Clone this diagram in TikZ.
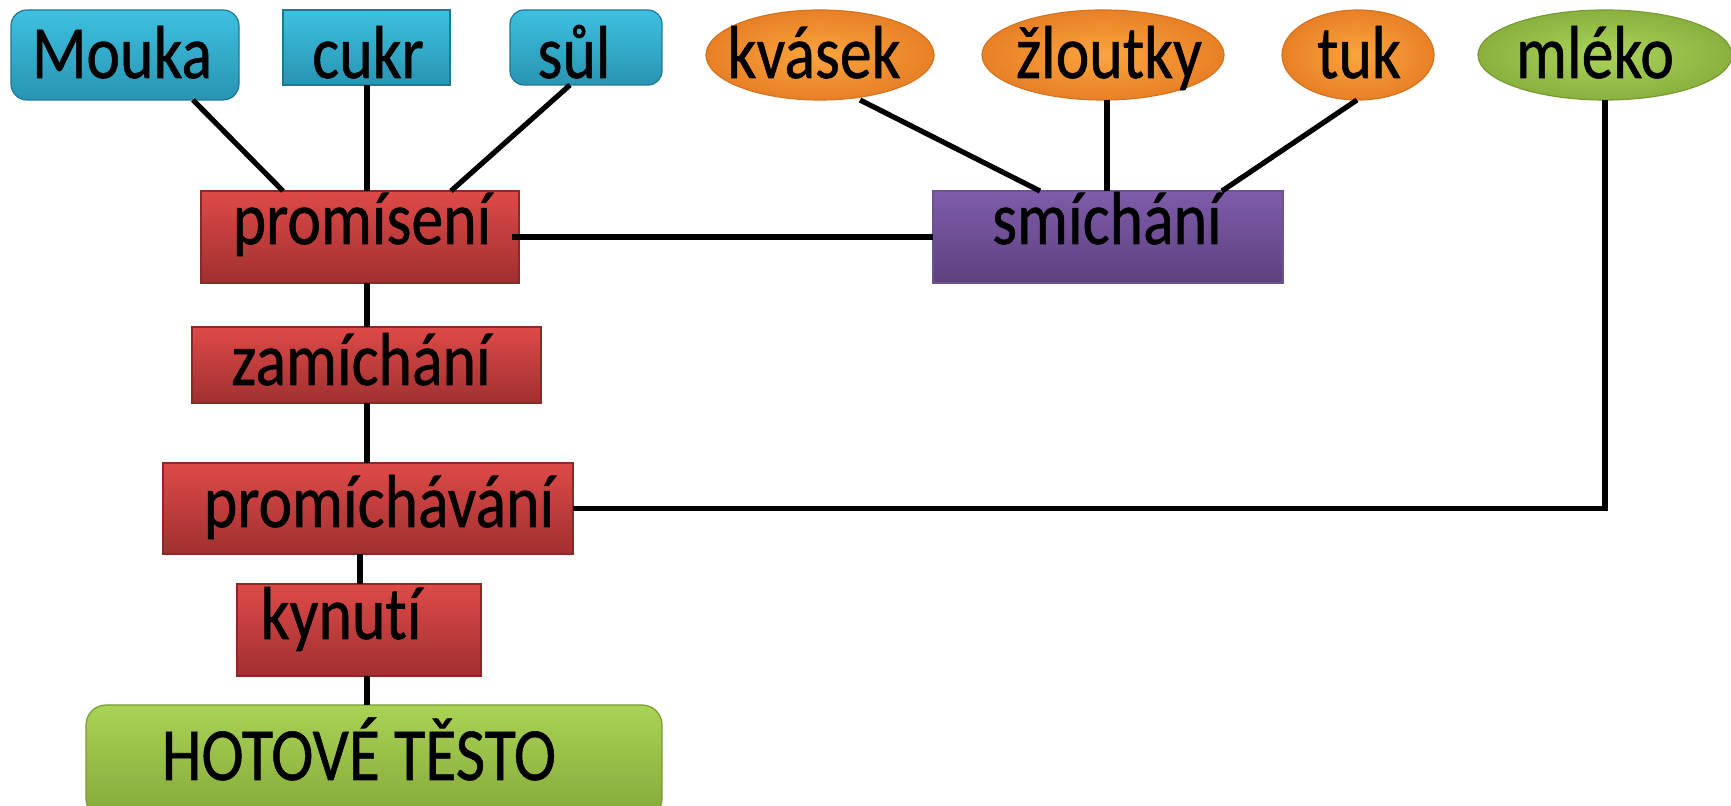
\documentclass[tikz,border=0pt]{standalone}
\usepackage{fontspec}
\setmainfont{Carlito}[Ligatures={NoCommon,NoContextual},FakeBold=0.8]
\usetikzlibrary{shapes.geometric,calc}
\definecolor{blueT}{RGB}{62,192,224}
\definecolor{blueB}{RGB}{40,148,178}
\definecolor{blueD}{RGB}{30,120,150}
\definecolor{redT}{RGB}{222,74,72}
\definecolor{redB}{RGB}{160,48,48}
\definecolor{redD}{RGB}{140,40,40}
\definecolor{purT}{RGB}{126,92,170}
\definecolor{purB}{RGB}{94,64,126}
\definecolor{purD}{RGB}{110,80,150}
\definecolor{orI}{RGB}{250,165,62}
\definecolor{orO}{RGB}{232,128,38}
\definecolor{orD}{RGB}{215,115,30}
\definecolor{grI}{RGB}{172,212,90}
\definecolor{grO}{RGB}{138,176,62}
\definecolor{grT}{RGB}{170,210,84}
\definecolor{grB}{RGB}{132,168,58}
\definecolor{grD}{RGB}{120,155,50}
\newcommand{\lbltext}[1]{\scalebox{0.85}[1]{#1}}
\tikzset{
  shp/.style={inner sep=0pt, outer sep=0pt, line width=0.6pt},
  bluebox/.style={shp, rectangle, top color=blueT, bottom color=blueB, draw=blueD},
  redbox/.style={shp, rectangle, top color=redT, bottom color=redB, draw=redD},
  purbox/.style={shp, rectangle, top color=purT, bottom color=purB, draw=purD},
  greenbox/.style={shp, rectangle, top color=grT, bottom color=grB, draw=grD},
  orell/.style={shp, ellipse, inner color=orI, outer color=orO, draw=orD},
  grell/.style={shp, ellipse, inner color=grI, outer color=grO, draw=grD},
  lbl/.style={anchor=base, inner sep=0pt, font=\fontsize{37.5}{44}\selectfont, text=black},
  conn/.style={line width=2.6pt, black},
}
\begin{document}
\begin{tikzpicture}[x=0.5pt, y=-0.5pt]
\useasboundingbox (0,0) rectangle (1731,806);
\clip (0,0) rectangle (1731,806);
% top row
\node[bluebox, rounded corners=8pt, minimum width=114pt, minimum height=45pt] (mouka) at (125,55) {};
\node[bluebox, minimum width=83.5pt, minimum height=37.5pt] (cukr) at (366.5,47.5) {};
\node[bluebox, rounded corners=7pt, minimum width=76pt, minimum height=37.5pt] (sul) at (586,47.5) {};
\node[orell, minimum width=114pt, minimum height=45pt] (kvasek) at (820,55) {};
\node[orell, minimum width=121pt, minimum height=45pt] (zlout) at (1103,55) {};
\node[orell, minimum width=76pt, minimum height=45pt] (tuk) at (1358,55) {};
\node[grell, minimum width=127pt, minimum height=45pt] (mleko) at (1605,55) {};
% process boxes
\node[redbox, minimum width=159pt, minimum height=46pt] (prom) at (360,237) {};
\node[purbox, minimum width=175pt, minimum height=46pt] (smich) at (1108,237) {};
\node[redbox, minimum width=174.5pt, minimum height=38pt] (zam) at (366.5,365) {};
\node[redbox, minimum width=205pt, minimum height=45.5pt] (promv) at (368,508.5) {};
\node[redbox, minimum width=122pt, minimum height=46pt] (kyn) at (359,630) {};
\node[greenbox, rounded corners=10pt, minimum width=288pt, minimum height=57pt] (hot) at (374,762) {};
% labels
\node[lbl] (tmouka) at (122,78) {\lbltext{Mouka}};
\node[lbl] (tcukr) at (368,78) {\lbltext{cukr}};
\node[lbl] (tsul) at (574,78) {\lbltext{sůl}};
\node[lbl] (tkvasek) at (814,78) {\lbltext{kvásek}};
\node[lbl] (tzlout) at (1109,78) {\lbltext{žloutky}};
\node[lbl] (ttuk) at (1359,78) {\lbltext{tuk}};
\node[lbl] (tmleko) at (1595,78) {\lbltext{mléko}};
\node[lbl] (tprom) at (362,244) {\lbltext{promísení}};
\node[lbl] (tsmich) at (1107,244) {\lbltext{smíchání}};
\node[lbl] (tzam) at (361,385) {\lbltext{zamíchání}};
\node[lbl] (tpromv) at (379,527) {\lbltext{promíchávání}};
\node[lbl] (tkyn) at (341,639) {\lbltext{kynutí}};
\node[lbl] (thot) at (359,780) {\lbltext{HOTOVÉ TĚSTO}};
% connectors
\draw[conn] ($(mouka.south)+(68,0)$) -- ($(prom.north)+(-77,0)$);
\draw[conn] ($(cukr.south)+(0.5,0)$) -- ($(prom.north)+(7,0)$);
\draw[conn] ($(sul.south)+(-16,0)$) -- ($(prom.north)+(91,0)$);
\draw[conn] ($(prom.east)+(-7,0)$) -- (smich.west);
\draw[conn] ($(kvasek.south)+(40,0)$) -- ($(smich.north)+(-68,0)$);
\draw[conn] ($(zlout.south)+(4,0)$) -- ($(smich.north)+(-1,0)$);
\draw[conn] ($(tuk.south)+(-1,0)$) -- ($(smich.north)+(114,0)$);
\draw[conn] (mleko.south) -- (mleko.south |- promv.east) -- (promv.east);
\draw[conn] ($(prom.south)+(7,0)$) -- ($(zam.north)+(0.5,0)$);
\draw[conn] ($(zam.south)+(0.5,0)$) -- ($(promv.north)+(-1,0)$);
\draw[conn] ($(promv.south)+(-8,0)$) -- ($(kyn.north)+(1,0)$);
\draw[conn] ($(kyn.south)+(8,0)$) -- ($(hot.north)+(-7,0)$);
\end{tikzpicture}
\end{document}
